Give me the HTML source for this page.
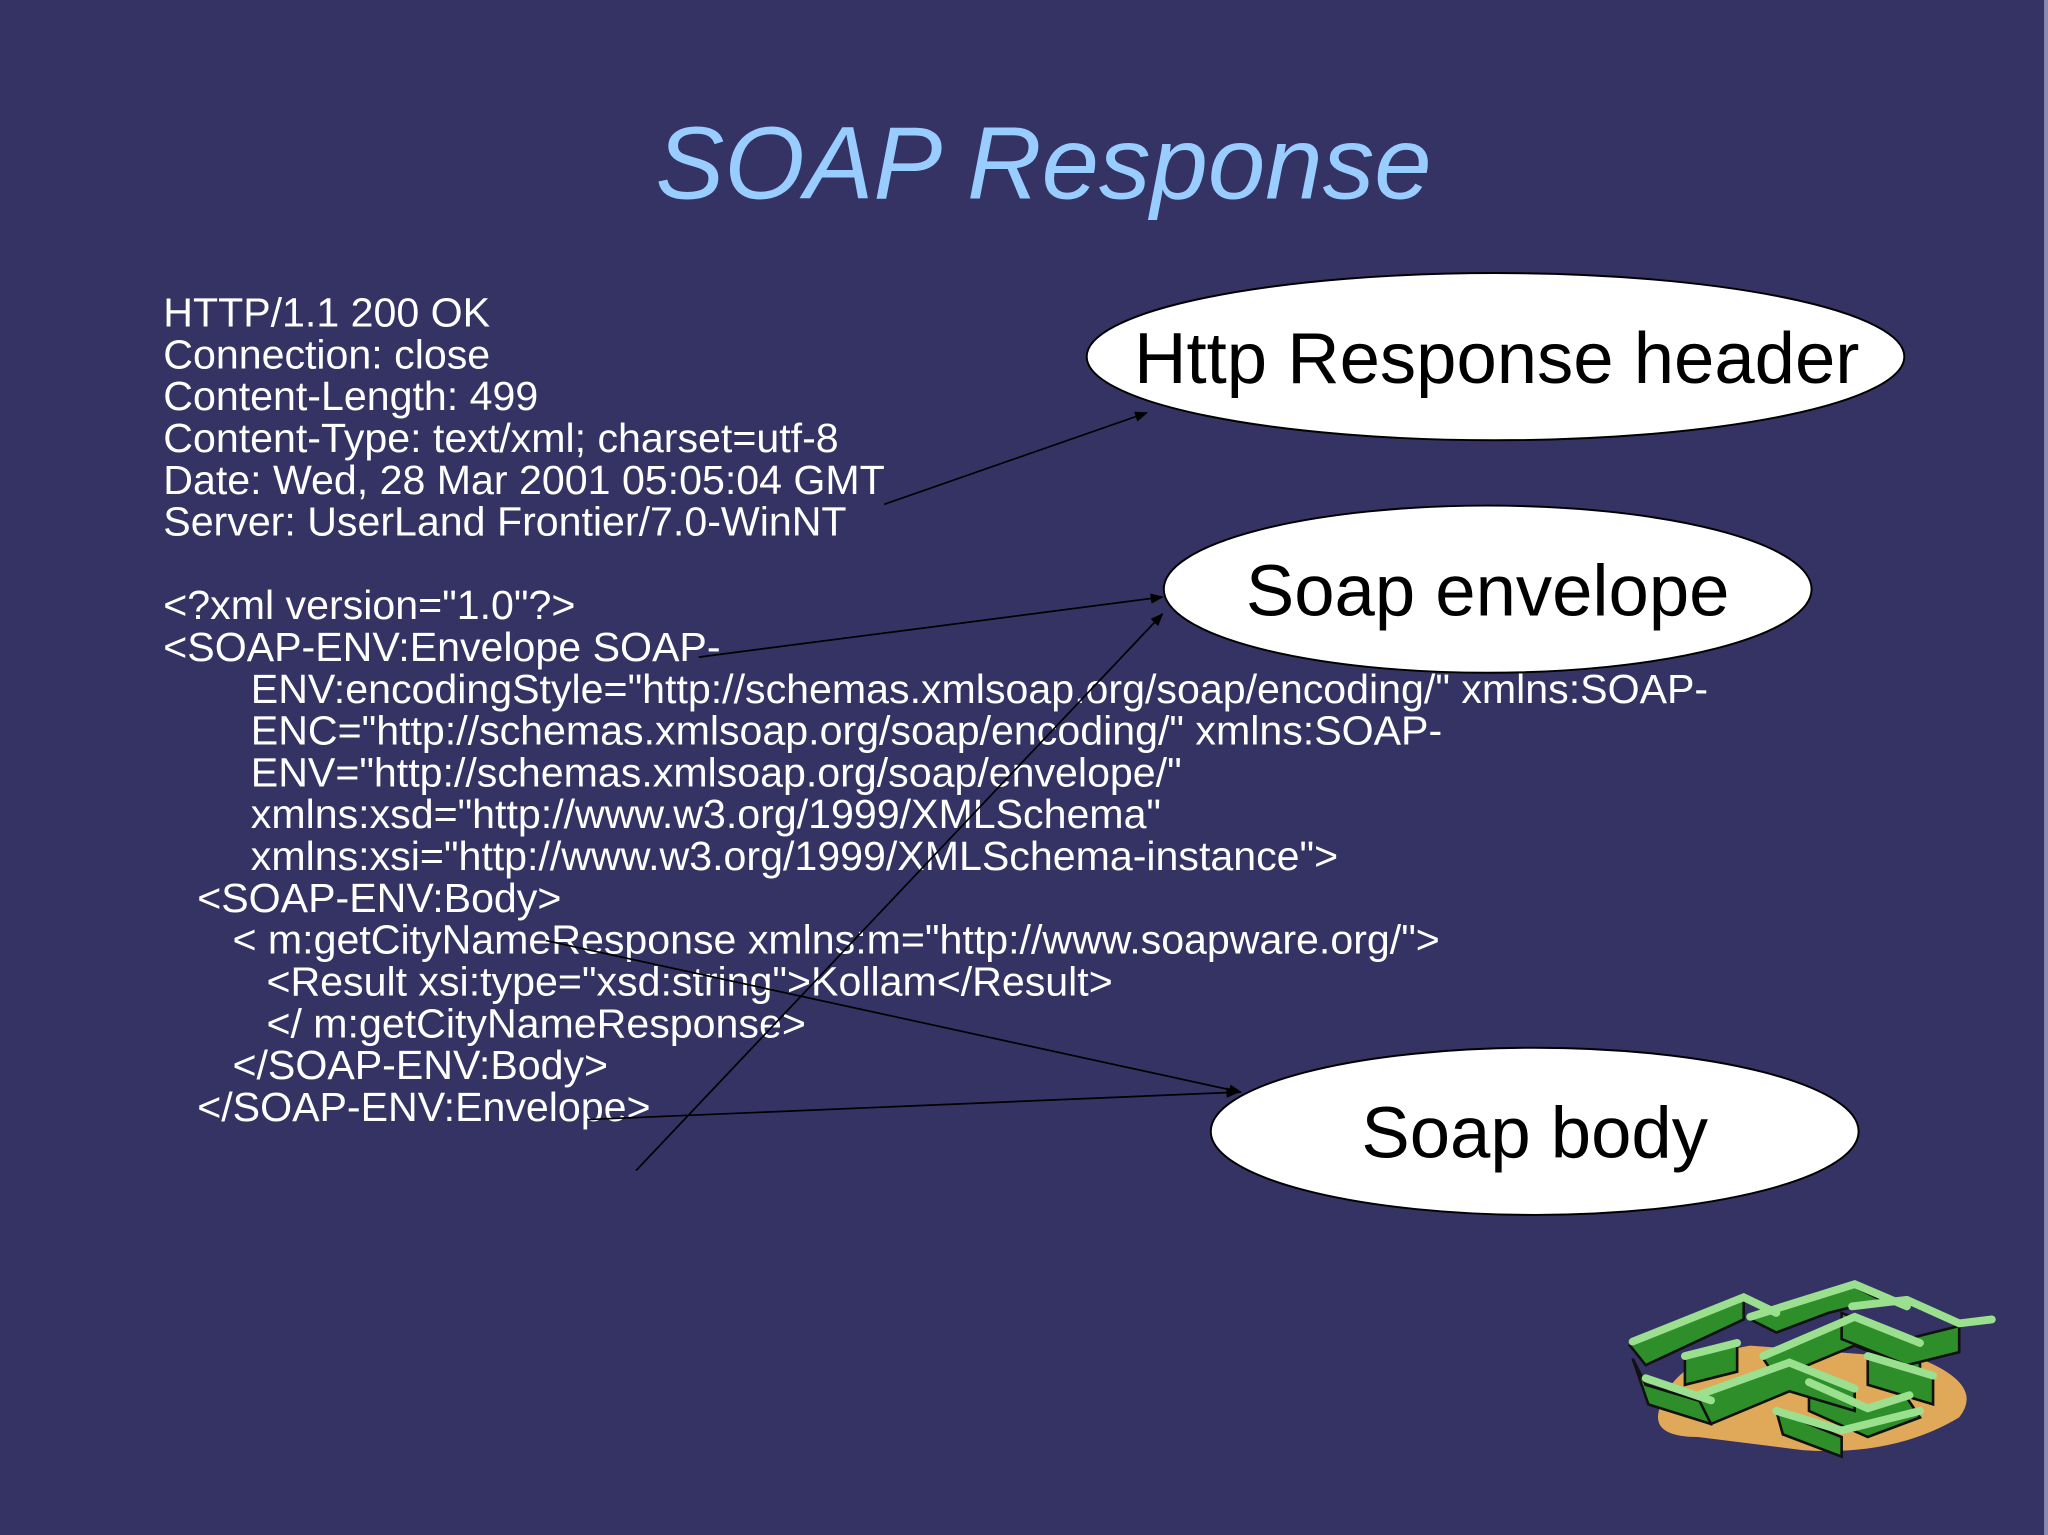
<!DOCTYPE html>
<html><head><meta charset="utf-8"><style>
html,body{margin:0;padding:0;background:#343364;}
svg{display:block}
</style></head><body>
<svg width="2048" height="1535" viewBox="0 0 1568 1175" preserveAspectRatio="none" xmlns="http://www.w3.org/2000/svg">
<rect width="1568" height="1175" fill="#343364"/>
<rect x="1565" y="0" width="3" height="1175" fill="#8a89b0"/>
<defs><marker id="a" markerWidth="10" markerHeight="8" refX="9" refY="4" orient="auto" markerUnits="userSpaceOnUse"><path d="M0,0 L10,4 L0,8 z" fill="#000"/></marker></defs>
<text x="799" y="152" text-anchor="middle" font-family="Liberation Sans, sans-serif" font-style="italic" font-size="79" fill="#99ccff">SOAP Response</text>
<g font-family="Liberation Sans, sans-serif" font-size="31.5" fill="#fff">
<text x="125" y="250">HTTP/1.1 200 OK</text>
<text x="125" y="282">Connection: close</text>
<text x="125" y="314">Content-Length: 499</text>
<text x="125" y="346">Content-Type: text/xml; charset=utf-8</text>
<text x="125" y="378">Date: Wed, 28 Mar 2001 05:05:04 GMT</text>
<text x="125" y="410">Server: UserLand Frontier/7.0-WinNT</text>
<text x="125" y="474">&lt;?xml version="1.0"?&gt;</text>
<text x="125" y="506">&lt;SOAP-ENV:Envelope SOAP-</text>
<text x="192" y="538">ENV:encodingStyle="http://schemas.xmlsoap.org/soap/encoding/" xmlns:SOAP-</text>
<text x="192" y="570">ENC="http://schemas.xmlsoap.org/soap/encoding/" xmlns:SOAP-</text>
<text x="192" y="602">ENV="http://schemas.xmlsoap.org/soap/envelope/"</text>
<text x="192" y="634">xmlns:xsd="http://www.w3.org/1999/XMLSchema"</text>
<text x="192" y="666">xmlns:xsi="http://www.w3.org/1999/XMLSchema-instance"&gt;</text>
<text x="151" y="698">&lt;SOAP-ENV:Body&gt;</text>
<text x="178" y="730">&lt; m:getCityNameResponse xmlns:m="http://www.soapware.org/"&gt;</text>
<text x="204" y="762">&lt;Result xsi:type="xsd:string"&gt;Kollam&lt;/Result&gt;</text>
<text x="204" y="794">&lt;/ m:getCityNameResponse&gt;</text>
<text x="178" y="826">&lt;/SOAP-ENV:Body&gt;</text>
<text x="151" y="858">&lt;/SOAP-ENV:Envelope&gt;</text>
</g>
<g fill="#fff" stroke="#000" stroke-width="1.5">
<ellipse cx="1145" cy="273" rx="313" ry="64"/>
<ellipse cx="1139" cy="451" rx="248" ry="64"/>
<ellipse cx="1175" cy="866" rx="248" ry="64"/>
</g>
<g font-family="Liberation Sans, sans-serif" font-size="55.5" fill="#000" text-anchor="middle">
<text x="1146" y="293">Http Response header</text>
<text x="1139" y="471">Soap envelope</text>
<text x="1175" y="886">Soap body</text>
</g>
<g stroke="#000" stroke-width="1.3" marker-end="url(#a)">
<line x1="677" y1="386" x2="878" y2="316"/>
<line x1="535" y1="503" x2="890" y2="457"/>
<line x1="487" y1="896" x2="890" y2="470"/>
<line x1="418" y1="720" x2="950" y2="836"/>
<line x1="450" y1="857" x2="948" y2="836"/>
</g>
<g stroke="#111" stroke-width="2">
<path d="M1270,1080 Q1265,1100 1300,1100 L1380,1110 Q1450,1115 1500,1085 Q1520,1060 1470,1040 L1340,1030 Q1280,1040 1270,1080z" fill="#e0a95a" stroke="none"/>
<path d="M1248,1030 L1335,995 L1335,1010 L1260,1045 z" fill="#2e8f2a"/>
<path d="M1250,1040 L1260,1060 L1310,1075 L1310,1090 L1262,1075 z" fill="#2e8f2a"/>
<path d="M1350,1040 L1420,1010 L1470,1030 L1470,1050 L1420,1030 L1360,1055 z" fill="#2e8f2a"/>
<path d="M1410,1005 L1460,1025 L1500,1015 L1500,1035 L1460,1045 L1410,1025 z" fill="#2e8f2a"/>
<path d="M1385,1060 L1430,1080 L1460,1070 L1470,1085 L1430,1100 L1385,1080 z" fill="#2e8f2a"/>
<path d="M1300,1070 L1370,1045 L1420,1065 L1420,1080 L1370,1065 L1310,1090 z" fill="#2e8f2a"/>
<path d="M1360,1080 L1410,1100 L1410,1115 L1365,1098 z" fill="#2e8f2a"/>
<path d="M1340,1010 L1360,1000 L1420,985 L1440,995 L1400,1005 L1360,1020 z" fill="#2e8f2a"/>
<path d="M1290,1040 L1330,1030 L1330,1050 L1290,1060 z" fill="#2e8f2a"/>
<path d="M1430,1040 L1480,1055 L1480,1075 L1430,1060 z" fill="#2e8f2a"/>
</g>
<g stroke="#9be08f" stroke-width="6" fill="none" stroke-linecap="round">
<path d="M1250,1027 L1335,993 L1360,1005"/>
<path d="M1300,1068 L1370,1043 L1420,1063"/>
<path d="M1350,1038 L1420,1008 L1470,1028"/>
<path d="M1385,1058 L1430,1078 L1462,1068"/>
<path d="M1418,1000 L1460,995 L1500,1013 L1525,1010"/>
<path d="M1340,1008 L1420,983 L1460,1000"/>
<path d="M1260,1055 L1310,1072"/>
<path d="M1360,1080 L1410,1095 L1470,1080"/>
<path d="M1290,1038 L1330,1028"/>
<path d="M1430,1038 L1480,1053"/>
</g>
</svg>
</body></html>
